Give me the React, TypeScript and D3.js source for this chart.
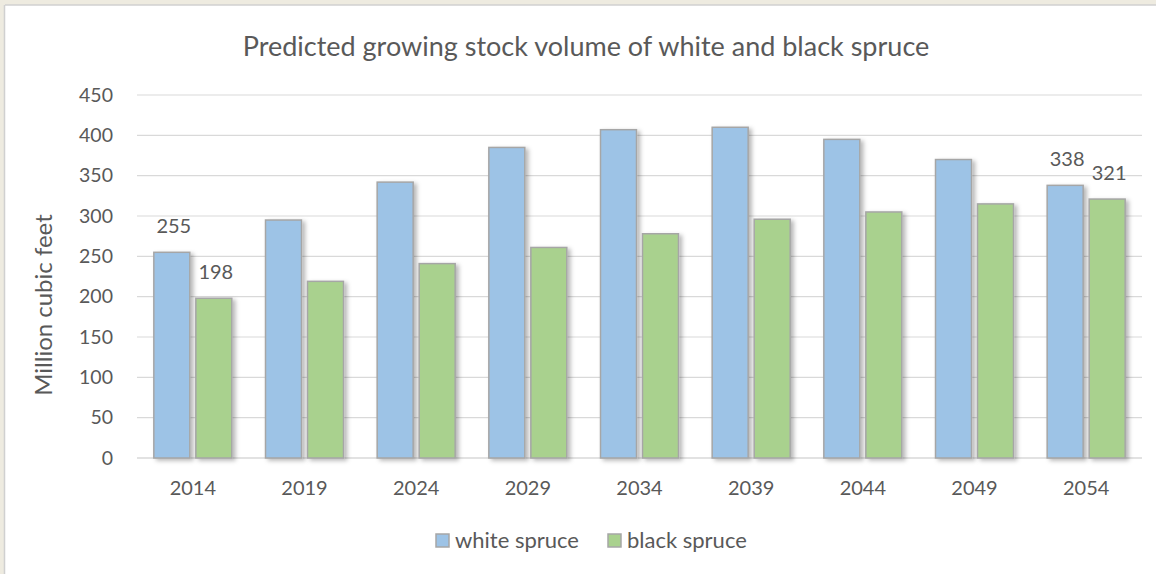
import React from "react";
import * as d3 from "d3";

const categories = ["2014", "2019", "2024", "2029", "2034", "2039", "2044", "2049", "2054"];
const seriesNames = ["white spruce", "black spruce"];
const whiteSpruce = [255, 295, 342, 385, 407, 410, 395, 370, 338];
const blackSpruce = [198, 219, 241, 261, 278, 296, 305, 315, 321];
const yTicks = [0, 50, 100, 150, 200, 250, 300, 350, 400, 450];
const labeledIndices = [0, 8];

const W = 1156;
const H = 574;
const FONT = "Lato, 'Open Sans', sans-serif";
const TEXT = "#595959";
const colors = ["#9dc3e6", "#a9d18e"];

export default function App() {
  const left = 137;
  const right = 1142;
  const top = 95;
  const bottom = 458;

  const x0 = d3.scaleBand<string>().domain(categories).range([left, right]).paddingInner(0.3015).paddingOuter(0.15075);
  const x1 = d3.scaleBand<string>().domain(seriesNames).range([0, x0.bandwidth()]).paddingInner(0.143).paddingOuter(0);
  const y = d3.scaleLinear().domain([0, 450]).range([bottom, top]);
  const data = [whiteSpruce, blackSpruce];

  return (
    <div style={{ position: "absolute", left: 0, top: 0 }}>
      <svg width={W} height={H} style={{ display: "block" }}>
        <defs>
          <filter id="shadow" x="-30%" y="-10%" width="160%" height="120%">
            <feDropShadow dx="3" dy="2" stdDeviation="2" floodColor="#000" floodOpacity="0.28" />
          </filter>
        </defs>
        <rect x={0} y={0} width={W} height={H} fill="#eeebe0" />
        <rect x={5} y={5} width={W - 5} height={H - 5} fill="#ffffff" />
        <line x1={4.5} y1={5} x2={4.5} y2={H} stroke="#d0d0d0" strokeWidth={1.5} />
        <line x1={5} y1={5} x2={W} y2={5} stroke="#d0d0d0" strokeWidth={1.5} />

        <text x={586} y={56} textAnchor="middle" fontFamily={FONT} fontSize={27} fill={TEXT}>
          Predicted growing stock volume of white and black spruce
        </text>

        {yTicks.map((t) => (
          <g key={t}>
            <line x1={left} x2={right} y1={y(t)} y2={y(t)} stroke="#d9d9d9" strokeWidth={t === 0 ? 1.5 : 1.2} />
            <text x={113} y={y(t)} dy="0.35em" textAnchor="end" fontFamily={FONT} fontSize={19.5} fill={TEXT}>
              {t}
            </text>
          </g>
        ))}

        {categories.map((c, i) => (
          <g key={c}>
            {seriesNames.map((s, si) => {
              const v = data[si][i];
              const bx = (x0(c) as number) + (x1(s) as number);
              return (
                <rect
                  key={s}
                  x={bx}
                  y={y(v)}
                  width={x1.bandwidth()}
                  height={y(0) - y(v)}
                  fill={colors[si]}
                  stroke="#a6a6a6"
                  strokeWidth={1.5}
                  filter="url(#shadow)"
                />
              );
            })}
            <text
              x={(x0(c) as number) + x0.bandwidth() / 2}
              y={495}
              textAnchor="middle"
              fontFamily={FONT}
              fontSize={20}
              fill={TEXT}
            >
              {c}
            </text>
          </g>
        ))}

        {labeledIndices.map((i) =>
          seriesNames.map((s, si) => {
            const v = data[si][i];
            const cx = (x0(categories[i]) as number) + (x1(s) as number) + x1.bandwidth() / 2 + 2;
            return (
              <text key={s + i} x={cx} y={y(v) - 19} textAnchor="middle" fontFamily={FONT} fontSize={20} fill={TEXT}>
                {v}
              </text>
            );
          })
        )}

        <text
          transform={`translate(52, 305) rotate(-90)`}
          textAnchor="middle"
          fontFamily={FONT}
          fontSize={24}
          fill={TEXT}
        >
          Million cubic feet
        </text>

        {seriesNames.map((s, si) => {
          const lx = [436, 608][si];
          return (
            <g key={s}>
              <rect x={lx} y={534} width={13} height={13} fill={colors[si]} stroke="#a6a6a6" strokeWidth={1.5} />
              <text x={lx + 19} y={548} fontFamily={FONT} fontSize={22} fill={TEXT}>
                {s}
              </text>
            </g>
          );
        })}
      </svg>
    </div>
  );
}
